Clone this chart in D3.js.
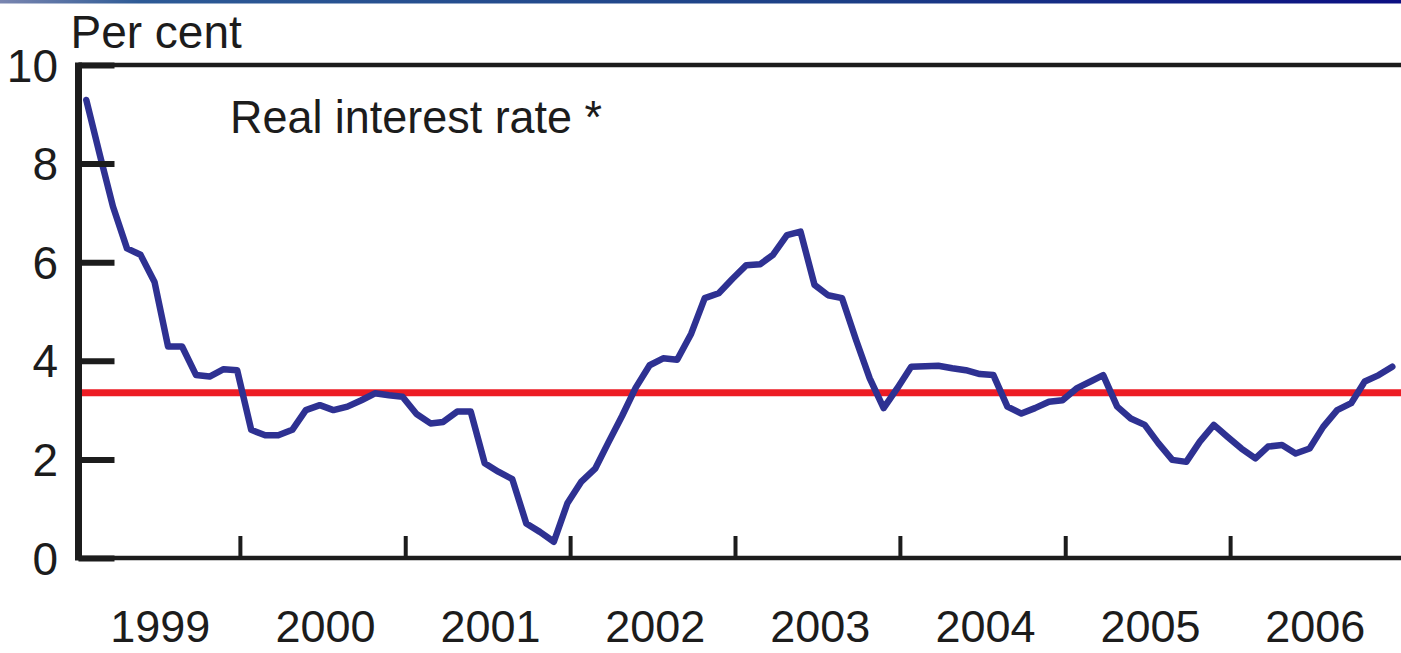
<!DOCTYPE html>
<html>
<head>
<meta charset="utf-8">
<script src="https://cdn.jsdelivr.net/npm/d3@7"></script>
<style>
  html, body { margin: 0; padding: 0; background: #ffffff; }
  svg { display: block; }
  text { font-family: "Liberation Sans", Arial, Helvetica, sans-serif; fill: #1c1c1c; }
</style>
</head>
<body>
<svg id="chart" width="1401" height="653"></svg>
<script>
// ---- data (monthly, Jan 1999 – Dec 2006) ----
const startMonth = "1999-01";
const realRate = [
  9.29, 8.14, 7.13, 6.28, 6.15, 5.60, 4.29, 4.29, 3.71, 3.68, 3.83, 3.81,
  2.60, 2.49, 2.49, 2.60, 3.00, 3.10, 3.00, 3.07, 3.20, 3.34, 3.30, 3.27,
  2.92, 2.73, 2.76, 2.97, 2.97, 1.92, 1.75, 1.60, 0.70, 0.53, 0.33, 1.11,
  1.55, 1.82, 2.33, 2.88, 3.45, 3.91, 4.05, 4.02, 4.55, 5.27, 5.37, 5.66,
  5.94, 5.96, 6.15, 6.55, 6.62, 5.54, 5.33, 5.27, 4.42, 3.65, 3.04, 3.44,
  3.88, 3.89, 3.90, 3.85, 3.81, 3.73, 3.71, 3.07, 2.93, 3.04, 3.17, 3.20,
  3.44, 3.58, 3.71, 3.07, 2.83, 2.70, 2.33, 1.99, 1.95, 2.36, 2.70, 2.46,
  2.22, 2.02, 2.26, 2.29, 2.12, 2.22, 2.66, 3.00, 3.14, 3.58, 3.71, 3.88
];
const averageRate = 3.35;
const yearLabels = ["1999", "2000", "2001", "2002", "2003", "2004", "2005", "2006"];
const yTicks = [0, 2, 4, 6, 8, 10];
const yTitle = "Per cent";
const seriesLabel = "Real interest rate *";

// ---- layout ----
const svg = d3.select("#chart");
const W = 1401, H = 653;
const parseMonth = d3.timeParse("%Y-%m");
const start = parseMonth(startMonth);
const dates = realRate.map((_, i) => d3.timeDay.offset(d3.timeMonth.offset(start, i), 25));

const x = d3.scaleTime()
  .domain([new Date(1999, 0, 1), new Date(2007, 0, 1)])
  .range([75, 1395]);
const y = d3.scaleLinear().domain([0, 10]).range([558, 65]);

const plotLeft = 78.5, plotRight = 1410;
const ink = "#1c1c1c";

// top decorative gradient strip
const defs = svg.append("defs");
const grad = defs.append("linearGradient").attr("id", "topStrip");
grad.append("stop").attr("offset", "0%").attr("stop-color", "#7a86b0");
grad.append("stop").attr("offset", "10%").attr("stop-color", "#2d5a96");
grad.append("stop").attr("offset", "60%").attr("stop-color", "#1c3f86");
grad.append("stop").attr("offset", "100%").attr("stop-color", "#0b0f82");
svg.append("rect").attr("x", 0).attr("y", 0).attr("width", W).attr("height", 3.5)
  .attr("fill", "url(#topStrip)");

// red average line
svg.append("line")
  .attr("x1", plotLeft).attr("x2", plotRight)
  .attr("y1", y(averageRate)).attr("y2", y(averageRate))
  .attr("stroke", "#ed1c24").attr("stroke-width", 7);

// blue series
const line = d3.line()
  .x((d, i) => x(dates[i]))
  .y(d => y(d))
  .curve(d3.curveLinear);
svg.append("path")
  .datum(realRate)
  .attr("d", line)
  .attr("fill", "none")
  .attr("stroke", "#2e3192")
  .attr("stroke-width", 6.5)
  .attr("stroke-linejoin", "round")
  .attr("stroke-linecap", "round");

// frame: top line, bottom axis
svg.append("line")
  .attr("x1", plotLeft).attr("x2", plotRight)
  .attr("y1", y(10)).attr("y2", y(10))
  .attr("stroke", ink).attr("stroke-width", 4.5);
svg.append("line")
  .attr("x1", plotLeft).attr("x2", plotRight)
  .attr("y1", y(0)).attr("y2", y(0))
  .attr("stroke", ink).attr("stroke-width", 4.5);

// y axis with inward ticks
const yAxis = d3.axisRight(y).tickValues(yTicks).tickSize(36).tickFormat("");
const gy = svg.append("g").attr("transform", `translate(${plotLeft},0)`).call(yAxis);
gy.select(".domain").remove();
gy.selectAll(".tick line").attr("stroke", ink).attr("stroke-width", 6);
svg.append("line")
  .attr("x1", plotLeft).attr("x2", plotLeft)
  .attr("y1", y(10) - 2.5).attr("y2", y(0) + 2.5)
  .attr("stroke", ink).attr("stroke-width", 7);

// y tick labels
svg.append("g").selectAll("text")
  .data(yTicks).join("text")
  .attr("x", 58)
  .attr("y", d => y(d))
  .attr("dy", "0.36em")
  .attr("text-anchor", "end")
  .attr("font-size", 46)
  .text(d => d);

// x axis: inward ticks at year boundaries
const yearStarts = yearLabels.slice(1).map(s => new Date(+s, 0, 1));
const xAxis = d3.axisTop(x).tickValues(yearStarts).tickSize(22).tickFormat("");
const gx = svg.append("g").attr("transform", `translate(0,${y(0)})`).call(xAxis);
gx.select(".domain").remove();
gx.selectAll(".tick line").attr("stroke", ink).attr("stroke-width", 4);

// year labels centred in each year
svg.append("g").selectAll("text")
  .data(yearLabels).join("text")
  .attr("x", d => x(new Date(+d, 6, 2)) + 3)
  .attr("y", 642)
  .attr("text-anchor", "middle")
  .attr("font-size", 45)
  .text(d => d);

// titles
svg.append("text").attr("x", 70.5).attr("y", 48).attr("font-size", 46).text(yTitle);
svg.append("text").attr("x", 230).attr("y", 133).attr("font-size", 46)
  .attr("textLength", 372).attr("lengthAdjust", "spacingAndGlyphs").text(seriesLabel);
</script>
</body>
</html>
